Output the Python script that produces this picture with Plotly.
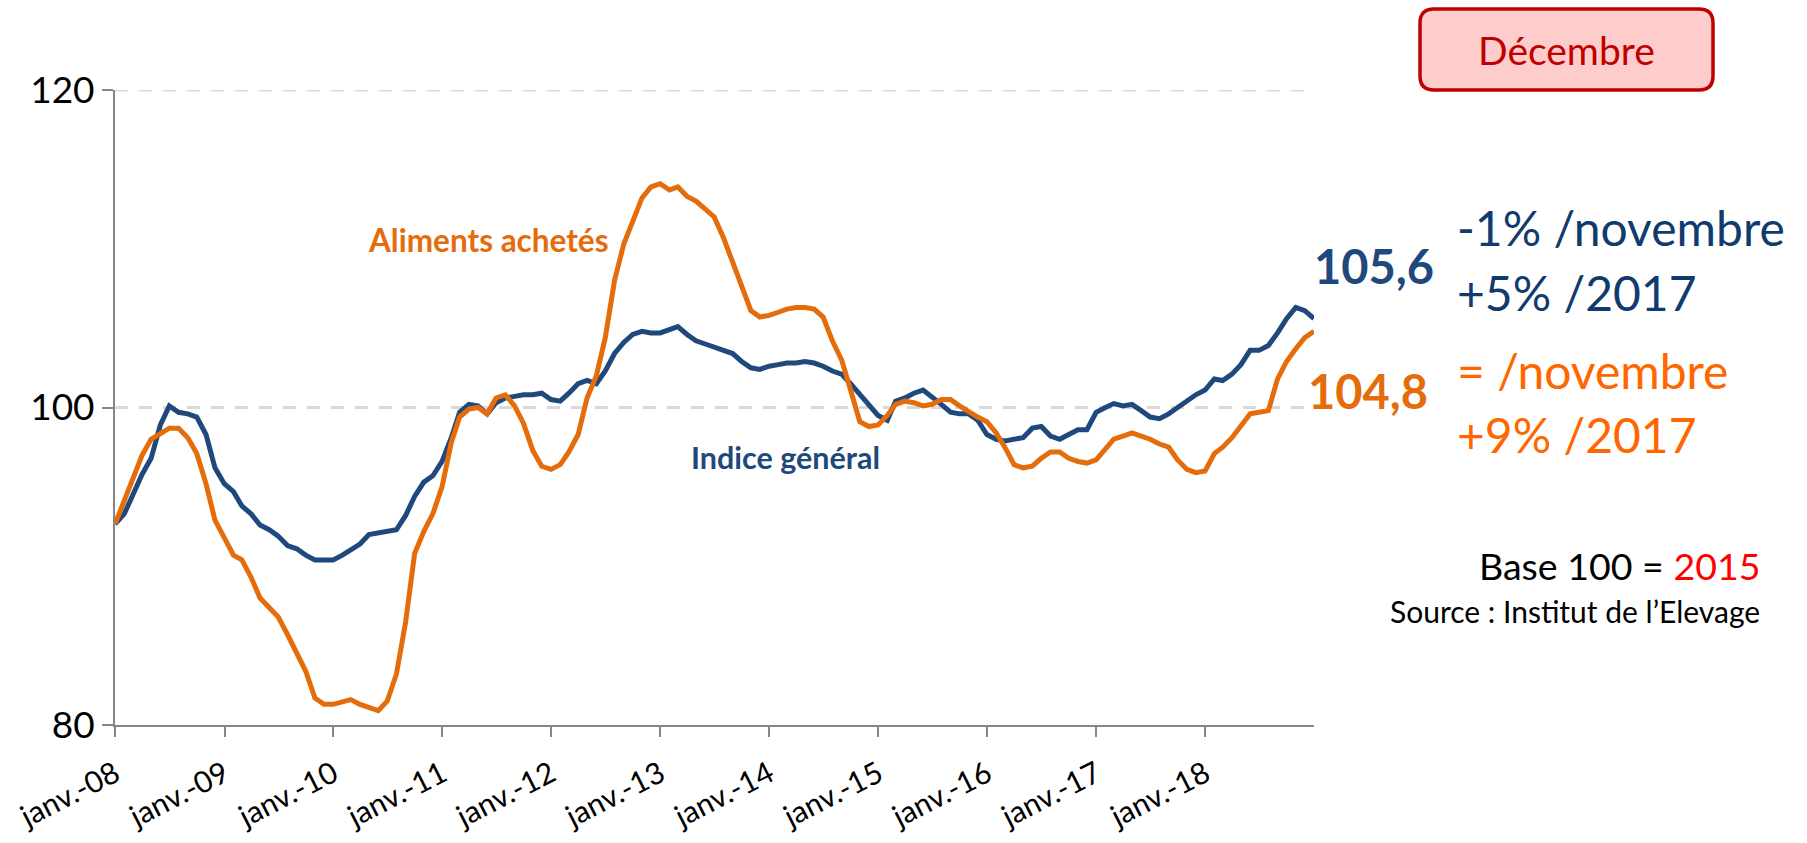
import pandas as pd
import plotly.graph_objects as go

# ---------------- data ----------------
start_month = "2007-12-31"   # month-end dates, 133 monthly points up to Dec 2018

indice_general = [
    92.65, 93.3, 94.5, 95.8, 96.8, 98.9, 100.1, 99.7, 99.6, 99.4, 98.3, 96.2,
    95.2, 94.7, 93.8, 93.3, 92.6, 92.3, 91.9, 91.3, 91.1, 90.7, 90.4, 90.4,
    90.4, 90.7, 91.0, 91.4, 92.0, 92.1, 92.2, 92.3, 93.2, 94.4, 95.3, 95.7,
    96.6, 98.1, 99.7, 100.2, 100.1, 99.6, 100.3, 100.6, 100.7, 100.8, 100.8, 100.9,
    100.5, 100.4, 100.9, 101.5, 101.7, 101.5, 102.3, 103.4, 104.1, 104.6, 104.8, 104.7,
    104.7, 104.9, 105.1, 104.6, 104.2, 104.0, 103.8, 103.6, 103.4, 102.9, 102.5, 102.4,
    102.6, 102.7, 102.8, 102.8, 102.9, 102.8, 102.6, 102.3, 102.1, 101.5, 100.8, 100.2,
    99.5, 99.2, 100.4, 100.6, 100.9, 101.1, 100.7, 100.2, 99.7, 99.6, 99.6, 99.2,
    98.3, 98.0, 97.9, 98.0, 98.1, 98.7, 98.8, 98.2, 98.0, 98.3, 98.6, 98.6,
    99.7, 100.0, 100.25, 100.1, 100.2, 99.8, 99.4, 99.3, 99.6, 100.0, 100.4, 100.8,
    101.1, 101.8, 101.7, 102.1, 102.7, 103.6, 103.6, 103.9, 104.7, 105.6, 106.3, 106.1,
    105.6,
]

aliments_achetes = [
    92.65, 94.1, 95.6, 97.0, 98.0, 98.4, 98.7, 98.7, 98.1, 97.1, 95.2, 92.9,
    91.8, 90.7, 90.4, 89.3, 88.0, 87.4, 86.8, 85.7, 84.6, 83.4, 81.7, 81.3,
    81.3, 81.5, 81.6, 81.3, 81.1, 80.9, 81.5, 83.2, 86.5, 90.8, 92.2, 93.3,
    95.0, 97.8, 99.4, 99.9, 100.0, 99.6, 100.6, 100.8, 100.1, 99.0, 97.3, 96.3,
    96.1, 96.4, 97.2, 98.3, 100.6, 102.0, 104.4, 108.0, 110.3, 111.8, 113.2, 113.9,
    114.1, 113.7, 113.9, 113.3, 113.0, 112.5, 112.0, 110.7, 109.2, 107.8, 106.1, 105.7,
    105.8, 106.0, 106.2, 106.3, 106.3, 106.2, 105.7, 104.2, 103.0, 101.1, 99.1, 98.8,
    98.9, 99.5, 100.2, 100.4, 100.3, 100.1, 100.2, 100.5, 100.5, 100.1, 99.7, 99.4,
    99.1, 98.4, 97.5, 96.4, 96.2, 96.3, 96.8, 97.2, 97.2, 96.8, 96.6, 96.5,
    96.7, 97.4, 98.0, 98.2, 98.4, 98.2, 98.0, 97.7, 97.5, 96.7, 96.1, 95.9,
    96.0, 97.1, 97.5, 98.1, 98.8, 99.6, 99.7, 99.8, 101.8, 102.9, 103.7, 104.4,
    104.8,
]

tick_dates = ["2008-01-01", "2009-01-01", "2010-01-01", "2011-01-01", "2012-01-01",
              "2013-01-01", "2014-01-01", "2015-01-01", "2016-01-01", "2017-01-01",
              "2018-01-01", "2019-01-01"]
tick_labels = ["janv.-08", "janv.-09", "janv.-10", "janv.-11", "janv.-12", "janv.-13",
               "janv.-14", "janv.-15", "janv.-16", "janv.-17", "janv.-18", ""]
y_ticks = [80, 100, 120]

months = pd.date_range(start_month, periods=len(indice_general), freq="ME")

# ---------------- styling ----------------
W, H = 1807, 843
L, R, T, B = 115, 1314, 90, 725          # plot area in pixels
BLUE = "#1F497D"
ORANGE = "#E46C0A"
FONT = "Lato"
GRID = dict(color="#D9D9D9", width=3, dash="13px,11px")


def px(x):
    return (x - L) / (R - L)


def py(y):
    return (B - y) / (B - T)


fig = go.Figure()
fig.add_trace(go.Scatter(x=months, y=indice_general, mode="lines",
                         line=dict(color=BLUE, width=5), name="Indice général"))
fig.add_trace(go.Scatter(x=months, y=aliments_achetes, mode="lines",
                         line=dict(color=ORANGE, width=5), name="Aliments achetés"))

fig.update_layout(
    width=W, height=H,
    margin=dict(l=L, r=W - R, t=T, b=H - B, pad=0, autoexpand=False),
    paper_bgcolor="white", plot_bgcolor="white",
    showlegend=False,
    font=dict(family=FONT, color="black"),
)

fig.update_xaxes(
    type="date", automargin=False,
    range=["2007-12-31", "2018-12-31"],
    tickmode="array", tickvals=tick_dates, ticktext=tick_labels,
    tickangle=-27,
    tickfont=dict(family=FONT, size=30, color="black"),
    ticklabelstandoff=8, ticklabeloverflow="allow",
    showgrid=False, zeroline=False,
    showline=True, linecolor="#868686", linewidth=2,
    ticks="outside", ticklen=10, tickwidth=2, tickcolor="#868686",
)
fig.update_yaxes(
    automargin=False,
    range=[80, 120],
    tickmode="array", tickvals=y_ticks,
    tickfont=dict(family=FONT, size=37, color="black"),
    showgrid=True, gridcolor=GRID["color"], gridwidth=GRID["width"], griddash=GRID["dash"],
    zeroline=False,
    showline=True, linecolor="#868686", linewidth=2,
    ticks="outside", ticklen=11, tickwidth=2, tickcolor="#868686",
)

# dashed gridline at the top of the range (not drawn by plotly at the edge)
fig.add_shape(type="line", xref="paper", yref="y", x0=0, x1=1, y0=120, y1=120,
              line=GRID, layer="below")

# rounded "Décembre" box
x0, x1, y0, y1, r = 1420, 1713, 9, 90, 14
pts = [("M", x0 + r, y0), ("L", x1 - r, y0), ("Q", x1, y0, x1, y0 + r),
       ("L", x1, y1 - r), ("Q", x1, y1, x1 - r, y1), ("L", x0 + r, y1),
       ("Q", x0, y1, x0, y1 - r), ("L", x0, y0 + r), ("Q", x0, y0, x0 + r, y0)]
path = ""
for p in pts:
    cmd, coords = p[0], p[1:]
    s = " ".join(f"{px(coords[i]):.5f},{py(coords[i + 1]):.5f}" for i in range(0, len(coords), 2))
    path += f"{cmd} {s} "
path += "Z"
fig.add_shape(type="path", path=path, xref="paper", yref="paper",
              fillcolor="#FFCCCC", line=dict(color="#C00000", width=3.5), layer="above")


def note(text, x, y, size, color, xanchor="center", bold=False):
    fig.add_annotation(
        text=f"<b>{text}</b>" if bold else text,
        x=px(x), y=py(y), xref="paper", yref="paper",
        xanchor=xanchor, yanchor="middle", showarrow=False,
        font=dict(family=FONT, size=size, color=color),
    )


note("Décembre", 1566, 50, 39, "#C00000")
note("Aliments achetés", 488, 240, 31.5, ORANGE, bold=True)
note("Indice général", 785, 457, 30.5, BLUE, bold=True)
note("105,6", 1374, 266, 47, BLUE, bold=True)
note("104,8", 1368, 391, 47, ORANGE, bold=True)
note("-1% /novembre", 1455, 228, 48, "#103B6E", xanchor="left")
note("+5% /2017", 1455, 292, 48, "#103B6E", xanchor="left")
note("= /novembre", 1455, 370, 48, "#FF6600", xanchor="left")
note("+9% /2017", 1455, 435, 48, "#FF6600", xanchor="left")
note("Base 100 = <span style='color:#FF0000'>2015</span>", 1762, 565, 37.5, "black", xanchor="right")
note("Source : Institut de l’Elevage", 1762, 611, 30, "black", xanchor="right")

fig.write_html("out.html",
               config={"displayModeBar": False},
               post_script="document.body.style.margin='0px';document.body.style.overflow='hidden';")
